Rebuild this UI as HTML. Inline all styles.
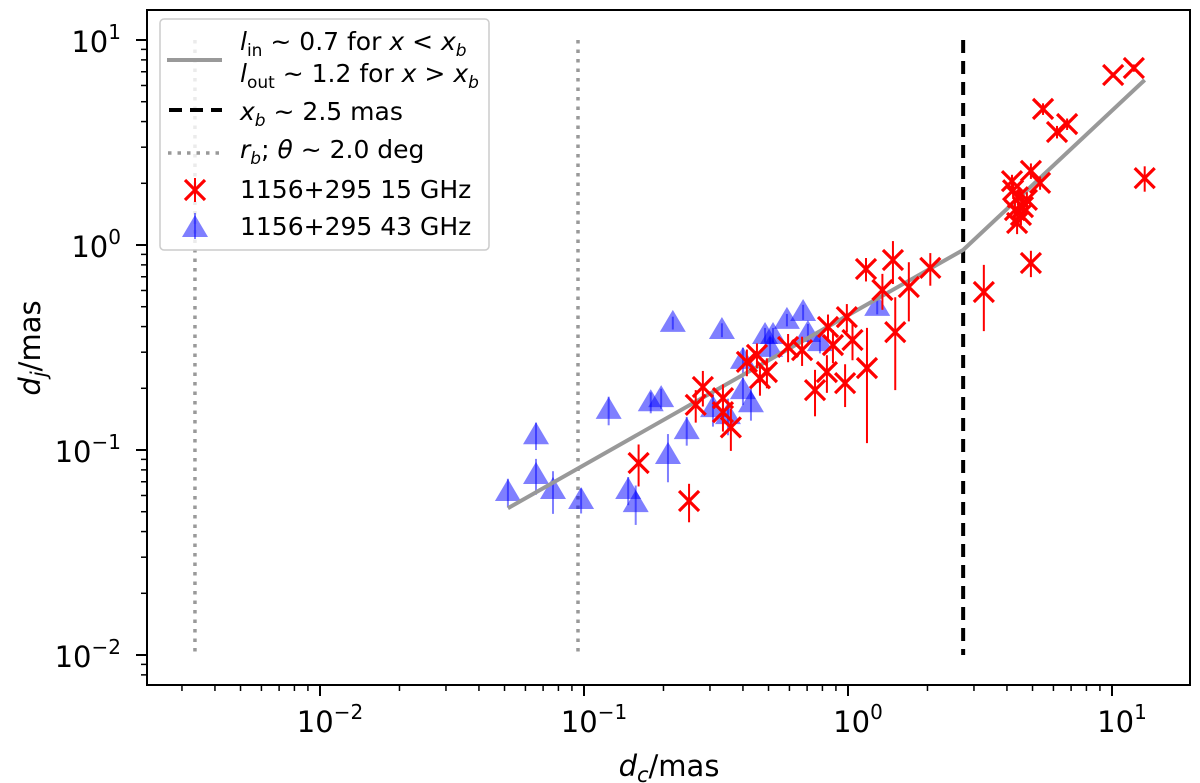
<!DOCTYPE html>
<html><head><meta charset="utf-8"><style>
html,body{margin:0;padding:0;background:#fff;}
svg{display:block;font-family:"DejaVu Sans","Liberation Sans",sans-serif;}
</style></head><body>
<svg id="chart" width="1200" height="783" viewBox="0 0 1200 783"></svg>
<script>
const redX=[10.1,12.1,5.48,6.19,6.76,13.3,4.93,4.18,5.34,4.22,4.40,4.60,4.37,4.76,4.29,4.52,4.93,3.27,2.05,1.70,1.48,1.17,1.35,1.51,1.18,0.975,0.832,0.750,1.04,0.877,0.99,0.840,0.670,0.593,0.161,0.250,0.265,0.282,0.336,0.336,0.360,0.414,0.452,0.464,0.493];
const redY=[6.75,7.3,4.61,3.56,3.89,2.12,2.30,2.05,2.01,1.85,1.71,1.53,1.28,1.66,1.48,1.40,0.817,0.59,0.773,0.624,0.845,0.764,0.603,0.376,0.251,0.212,0.240,0.196,0.344,0.325,0.445,0.398,0.307,0.318,0.0864,0.0564,0.166,0.203,0.179,0.153,0.129,0.269,0.291,0.224,0.240];
const redErr=[0.2,0.3,0.3,0.25,0.25,0.3,0.2,0.15,0.15,0.15,0.15,0.15,0.15,0.15,0.15,0.15,0.12,0.21,0.14,0.2,0.2,0.1,0.12,0.18,0.143,0.05,0.05,0.05,0.07,0.06,0.07,0.06,0.05,0.05,0.02,0.012,0.03,0.04,0.03,0.03,0.03,0.04,0.04,0.04,0.04];
const blueX=[0.0515,0.0658,0.0658,0.0763,0.0975,0.124,0.179,0.196,0.147,0.157,0.217,0.208,0.245,0.333,0.308,0.400,0.429,0.351,0.485,0.520,0.587,0.676,0.705,0.783,0.400,0.507,1.29];
const blueY=[0.0624,0.118,0.0755,0.0638,0.057,0.157,0.171,0.179,0.0638,0.0551,0.417,0.0946,0.125,0.385,0.160,0.196,0.169,0.148,0.364,0.364,0.431,0.471,0.372,0.336,0.275,0.315,0.499];
const blueErr=[0.01,0.018,0.015,0.015,0.008,0.025,0.02,0.02,0.01,0.012,0.03,0.025,0.02,0.03,0.03,0.03,0.03,0.03,0.03,0.03,0.03,0.04,0.04,0.04,0.04,0.04,0.04];
const fitX=[0.0515,2.73,13.3];
const fitY=[0.052,0.946,6.38];
const breakX=2.73;
const rbX=[0.00336,0.0949];
const xTicks=[0.01,0.1,1,10];
const xTickExp=["−2","−1","0","1"];
const yTicks=[0.01,0.1,1,10];
const yTickExp=["−2","−1","0","1"];

const L=147,R=1190,T=10,B=685;
const X=v=>848+264*Math.log10(v);
const Y=v=>245-205*Math.log10(v);
const NS="http://www.w3.org/2000/svg";
const svg=document.getElementById('chart');
function mk(tag,attrs,parent){const e=document.createElementNS(NS,tag);for(const k in attrs)e.setAttribute(k,attrs[k]);(parent||svg).appendChild(e);return e;}

const clip=mk('clipPath',{id:'pc'});mk('rect',{x:L,y:T,width:R-L,height:B-T},clip);
const plot=mk('g',{'clip-path':'url(#pc)'});



rbX.forEach((v,i)=>{const l=mk('line',{x1:X(v),x2:X(v),y1:Y(10),y2:Y(0.01),stroke:'#999','stroke-width':3.5,'stroke-dasharray':'3.5 6'},plot);

});
const bl=mk('line',{x1:X(breakX),x2:X(breakX),y1:Y(10),y2:Y(0.01),stroke:'#000','stroke-width':4,'stroke-dasharray':'13 8'},plot);



for(let i=0;i<blueX.length;i++){
 const g=mk('g',{},plot);
 
 
 const x=X(blueX[i]),y=Y(blueY[i]);
 const lo=Math.max(blueY[i]-blueErr[i],1e-4),hi=blueY[i]+blueErr[i];
 mk('line',{x1:x,x2:x,y1:Y(lo),y2:Y(hi),stroke:'rgba(0,0,255,0.5)','stroke-width':2},g);
 mk('polygon',{points:`${x},${y-13} ${x-13},${y+9} ${x+13},${y+9}`,fill:'rgba(0,0,255,0.5)'},g);
}
const fl=mk('polyline',{points:fitX.map((v,i)=>X(v)+','+Y(fitY[i])).join(' '),fill:'none',stroke:'#999','stroke-width':4},plot);


for(let i=0;i<redX.length;i++){
 const g=mk('g',{},plot);
 
 
 const x=X(redX[i]),y=Y(redY[i]);
 const lo=Math.max(redY[i]-redErr[i],1e-4),hi=redY[i]+redErr[i];
 mk('line',{x1:x,x2:x,y1:Y(lo),y2:Y(hi),stroke:'#f00','stroke-width':2},g);
 const s=10;
 mk('path',{d:`M${x-s} ${y-s}L${x+s} ${y+s}M${x-s} ${y+s}L${x+s} ${y-s}`,stroke:'#f00','stroke-width':3.2,fill:'none'},g);
}

const fr=mk('rect',{x:L,y:T,width:R-L,height:B-T,fill:'none',stroke:'#000','stroke-width':2});



for(let d=-3;d<=1;d++){for(let m=1;m<10;m++){const v=m*Math.pow(10,d);const x=X(v);if(x<L||x>R)continue;
 mk('line',{x1:x,x2:x,y1:B,y2:B+(m===1?11:6),stroke:'#000','stroke-width':m===1?2:1.5});}}
for(let d=-3;d<=1;d++){for(let m=1;m<10;m++){const v=m*Math.pow(10,d);const y=Y(v);if(y<T||y>B)continue;
 mk('line',{x1:L,x2:L-(m===1?11:6),y1:y,y2:y,stroke:'#000','stroke-width':m===1?2:1.5});}}
xTicks.forEach((v,i)=>{const t=mk('text',{x:X(v)+10,y:B+47,'font-size':29,'text-anchor':'middle'});
 
 
 t.innerHTML=`10<tspan dy="-13" font-size="20">${xTickExp[i]}</tspan>`;});
yTicks.forEach((v,i)=>{const t=mk('text',{x:L-26,y:Y(v)+12,'font-size':29,'text-anchor':'end'});
 
 
 t.innerHTML=`10<tspan dy="-13" font-size="20">${yTickExp[i]}</tspan>`;});
const xt=mk('text',{x:669,y:776,'font-size':29,'text-anchor':'middle'});


xt.innerHTML='<tspan font-style="italic">d</tspan><tspan font-style="italic" font-size="21" dy="6">c</tspan><tspan dy="-6">/mas</tspan>';
const yt=mk('text',{transform:'translate(40,348) rotate(-90)','font-size':29,'text-anchor':'middle'});


yt.innerHTML='<tspan font-style="italic">d</tspan><tspan font-style="italic" font-size="21" dy="6">j</tspan><tspan dy="-6">/mas</tspan>';

const lg=mk('g',{});


mk('rect',{x:160,y:19,width:329,height:231,rx:4,fill:'rgba(255,255,255,0.8)',stroke:'#ccc','stroke-width':1.5},lg);
mk('line',{x1:167,x2:222,y1:60,y2:60,stroke:'#999','stroke-width':4},lg);
mk('line',{x1:169,x2:222,y1:110,y2:110,stroke:'#000','stroke-width':4,'stroke-dasharray':'13 8'},lg);
mk('line',{x1:168,x2:222,y1:153,y2:153,stroke:'#999','stroke-width':3.5,'stroke-dasharray':'3.5 6'},lg);
mk('path',{d:'M185 180L205 200M185 200L205 180',stroke:'#f00','stroke-width':3.2},lg);
mk('line',{x1:195,x2:195,y1:178,y2:202,stroke:'#f00','stroke-width':2},lg);
mk('polygon',{points:'195,215 182,237 208,237',fill:'rgba(0,0,255,0.5)'},lg);
mk('line',{x1:195,x2:195,y1:213,y2:239,stroke:'rgba(0,0,255,0.5)','stroke-width':2},lg);
const entries=[
 [50,'<tspan font-style="italic">l</tspan><tspan font-size="17" dy="6">in</tspan><tspan dy="-6"> ~ 0.7 for </tspan><tspan font-style="italic">x</tspan> &lt; <tspan font-style="italic">x</tspan><tspan font-style="italic" font-size="17" dy="6">b</tspan>'],
 [82,'<tspan font-style="italic">l</tspan><tspan font-size="17" dy="6">out</tspan><tspan dy="-6"> ~ 1.2 for </tspan><tspan font-style="italic">x</tspan> &gt; <tspan font-style="italic">x</tspan><tspan font-style="italic" font-size="17" dy="6">b</tspan>'],
 [120,'<tspan font-style="italic">x</tspan><tspan font-style="italic" font-size="17" dy="6">b</tspan><tspan dy="-6"> ~ 2.5 mas</tspan>'],
 [158,'<tspan font-style="italic">r</tspan><tspan font-style="italic" font-size="17" dy="6">b</tspan><tspan dy="-6">;  </tspan><tspan font-style="italic">θ</tspan> ~ 2.0 deg'],
 [198,'1156+295 15 GHz'],
 [235,'1156+295 43 GHz']];
entries.forEach(e=>{const t=mk('text',{x:240,y:e[0],'font-size':25},lg);
 
 
 t.innerHTML=e[1];});
</script>
</body></html>
